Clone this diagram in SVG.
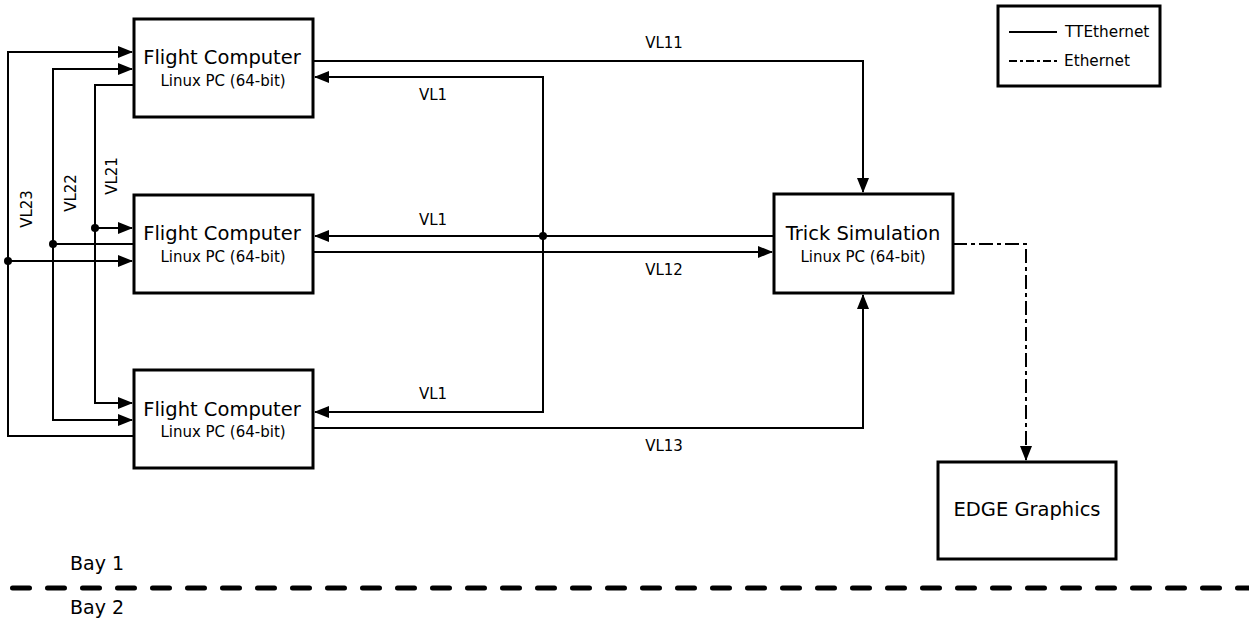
<svg xmlns="http://www.w3.org/2000/svg" width="1249" height="623" viewBox="0 0 1249 623">
<style>
.box{fill:#fff;stroke:#000;stroke-width:3}
.t{font-family:"DejaVu Sans",sans-serif;fill:#000;text-anchor:middle}
.title{font-size:19.5px}
.sub{font-size:15px}
.lbl{font-size:15px}
.ln{fill:none;stroke:#000;stroke-width:2}
.dd{fill:none;stroke:#000;stroke-width:2;stroke-dasharray:14 4 4 4}
.lg{font-family:"DejaVu Sans",sans-serif;font-size:15.3px;fill:#000}
.bay{font-family:"DejaVu Sans",sans-serif;font-size:19px;fill:#000}
</style>
<defs>
<marker id="ah" markerUnits="userSpaceOnUse" markerWidth="15" markerHeight="12" refX="14" refY="6" orient="auto">
<path d="M0,0 L15,6 L0,12 Z" fill="#000"/>
</marker>
</defs>
<rect width="1249" height="623" fill="#fff"/>
<g id="connectors">
<polyline class="ln" points="134,85 95,85 95,403 132,403" marker-end="url(#ah)"/>
<line class="ln" x1="95" y1="228" x2="132" y2="228" marker-end="url(#ah)"/>
<circle cx="95" cy="228" r="4"/>
<polyline class="ln" points="134,244 53,244 53,69 132,69" marker-end="url(#ah)"/>
<polyline class="ln" points="53,244 53,420 132,420" marker-end="url(#ah)"/>
<circle cx="53" cy="244" r="4"/>
<polyline class="ln" points="134,436 8,436 8,52 132,52" marker-end="url(#ah)"/>
<line class="ln" x1="8" y1="261" x2="132" y2="261" marker-end="url(#ah)"/>
<circle cx="8" cy="261" r="4"/>
<polyline class="ln" points="313,61 863,61 863,192" marker-end="url(#ah)"/>
<line class="ln" x1="774" y1="236" x2="315" y2="236" marker-end="url(#ah)"/>
<polyline class="ln" points="543,236 543,77 315,77" marker-end="url(#ah)"/>
<polyline class="ln" points="543,236 543,412 315,412" marker-end="url(#ah)"/>
<circle cx="543" cy="236" r="4"/>
<line class="ln" x1="313" y1="252" x2="772" y2="252" marker-end="url(#ah)"/>
<polyline class="ln" points="313,428 863,428 863,295" marker-end="url(#ah)"/>
<polyline class="dd" points="953,244 1026,244 1026,460" marker-end="url(#ah)"/>
<g class="t lbl">
<text x="664" y="48">VL11</text>
<text x="433" y="100">VL1</text>
<text x="433" y="225">VL1</text>
<text x="664" y="275">VL12</text>
<text x="433" y="399">VL1</text>
<text x="664" y="451">VL13</text>
<text transform="translate(32,209) rotate(-90)">VL23</text>
<text transform="translate(76,193) rotate(-90)">VL22</text>
<text transform="translate(117,176) rotate(-90)">VL21</text>
</g>
</g>
<g id="fc1">
<rect class="box" x="134" y="19" width="179" height="98"/>
<text class="t title" x="222" y="64">Flight Computer</text>
<text class="t sub" x="223" y="86">Linux PC (64-bit)</text>
</g>
<g id="fc2">
<rect class="box" x="134" y="195" width="179" height="98"/>
<text class="t title" x="222" y="240">Flight Computer</text>
<text class="t sub" x="223" y="262">Linux PC (64-bit)</text>
</g>
<g id="fc3">
<rect class="box" x="134" y="370" width="179" height="98"/>
<text class="t title" x="222" y="416">Flight Computer</text>
<text class="t sub" x="223" y="437">Linux PC (64-bit)</text>
</g>
<g id="trick">
<rect class="box" x="774" y="194" width="179" height="99"/>
<text class="t title" x="863" y="240">Trick Simulation</text>
<text class="t sub" x="863" y="262">Linux PC (64-bit)</text>
</g>
<g id="edge">
<rect class="box" x="938" y="462" width="178" height="97"/>
<text class="t title" x="1027" y="516">EDGE Graphics</text>
</g>
<g id="legend">
<rect class="box" x="998" y="6" width="162" height="80"/>
<line class="ln" x1="1009" y1="32" x2="1057" y2="32"/>
<line x1="1009" y1="61" x2="1057" y2="61" stroke="#000" stroke-width="2" stroke-dasharray="8 3 3 3"/>
<text class="lg" x="1065" y="37">TTEthernet</text>
<text class="lg" x="1064" y="66">Ethernet</text>
</g>
<g id="bays">
<line x1="12.5" y1="588" x2="1249" y2="588" stroke="#000" stroke-width="5" stroke-linecap="round" stroke-dasharray="17 18"/>
<text class="bay" x="70" y="570">Bay 1</text>
<text class="bay" x="70" y="614">Bay 2</text>
</g>
</svg>
